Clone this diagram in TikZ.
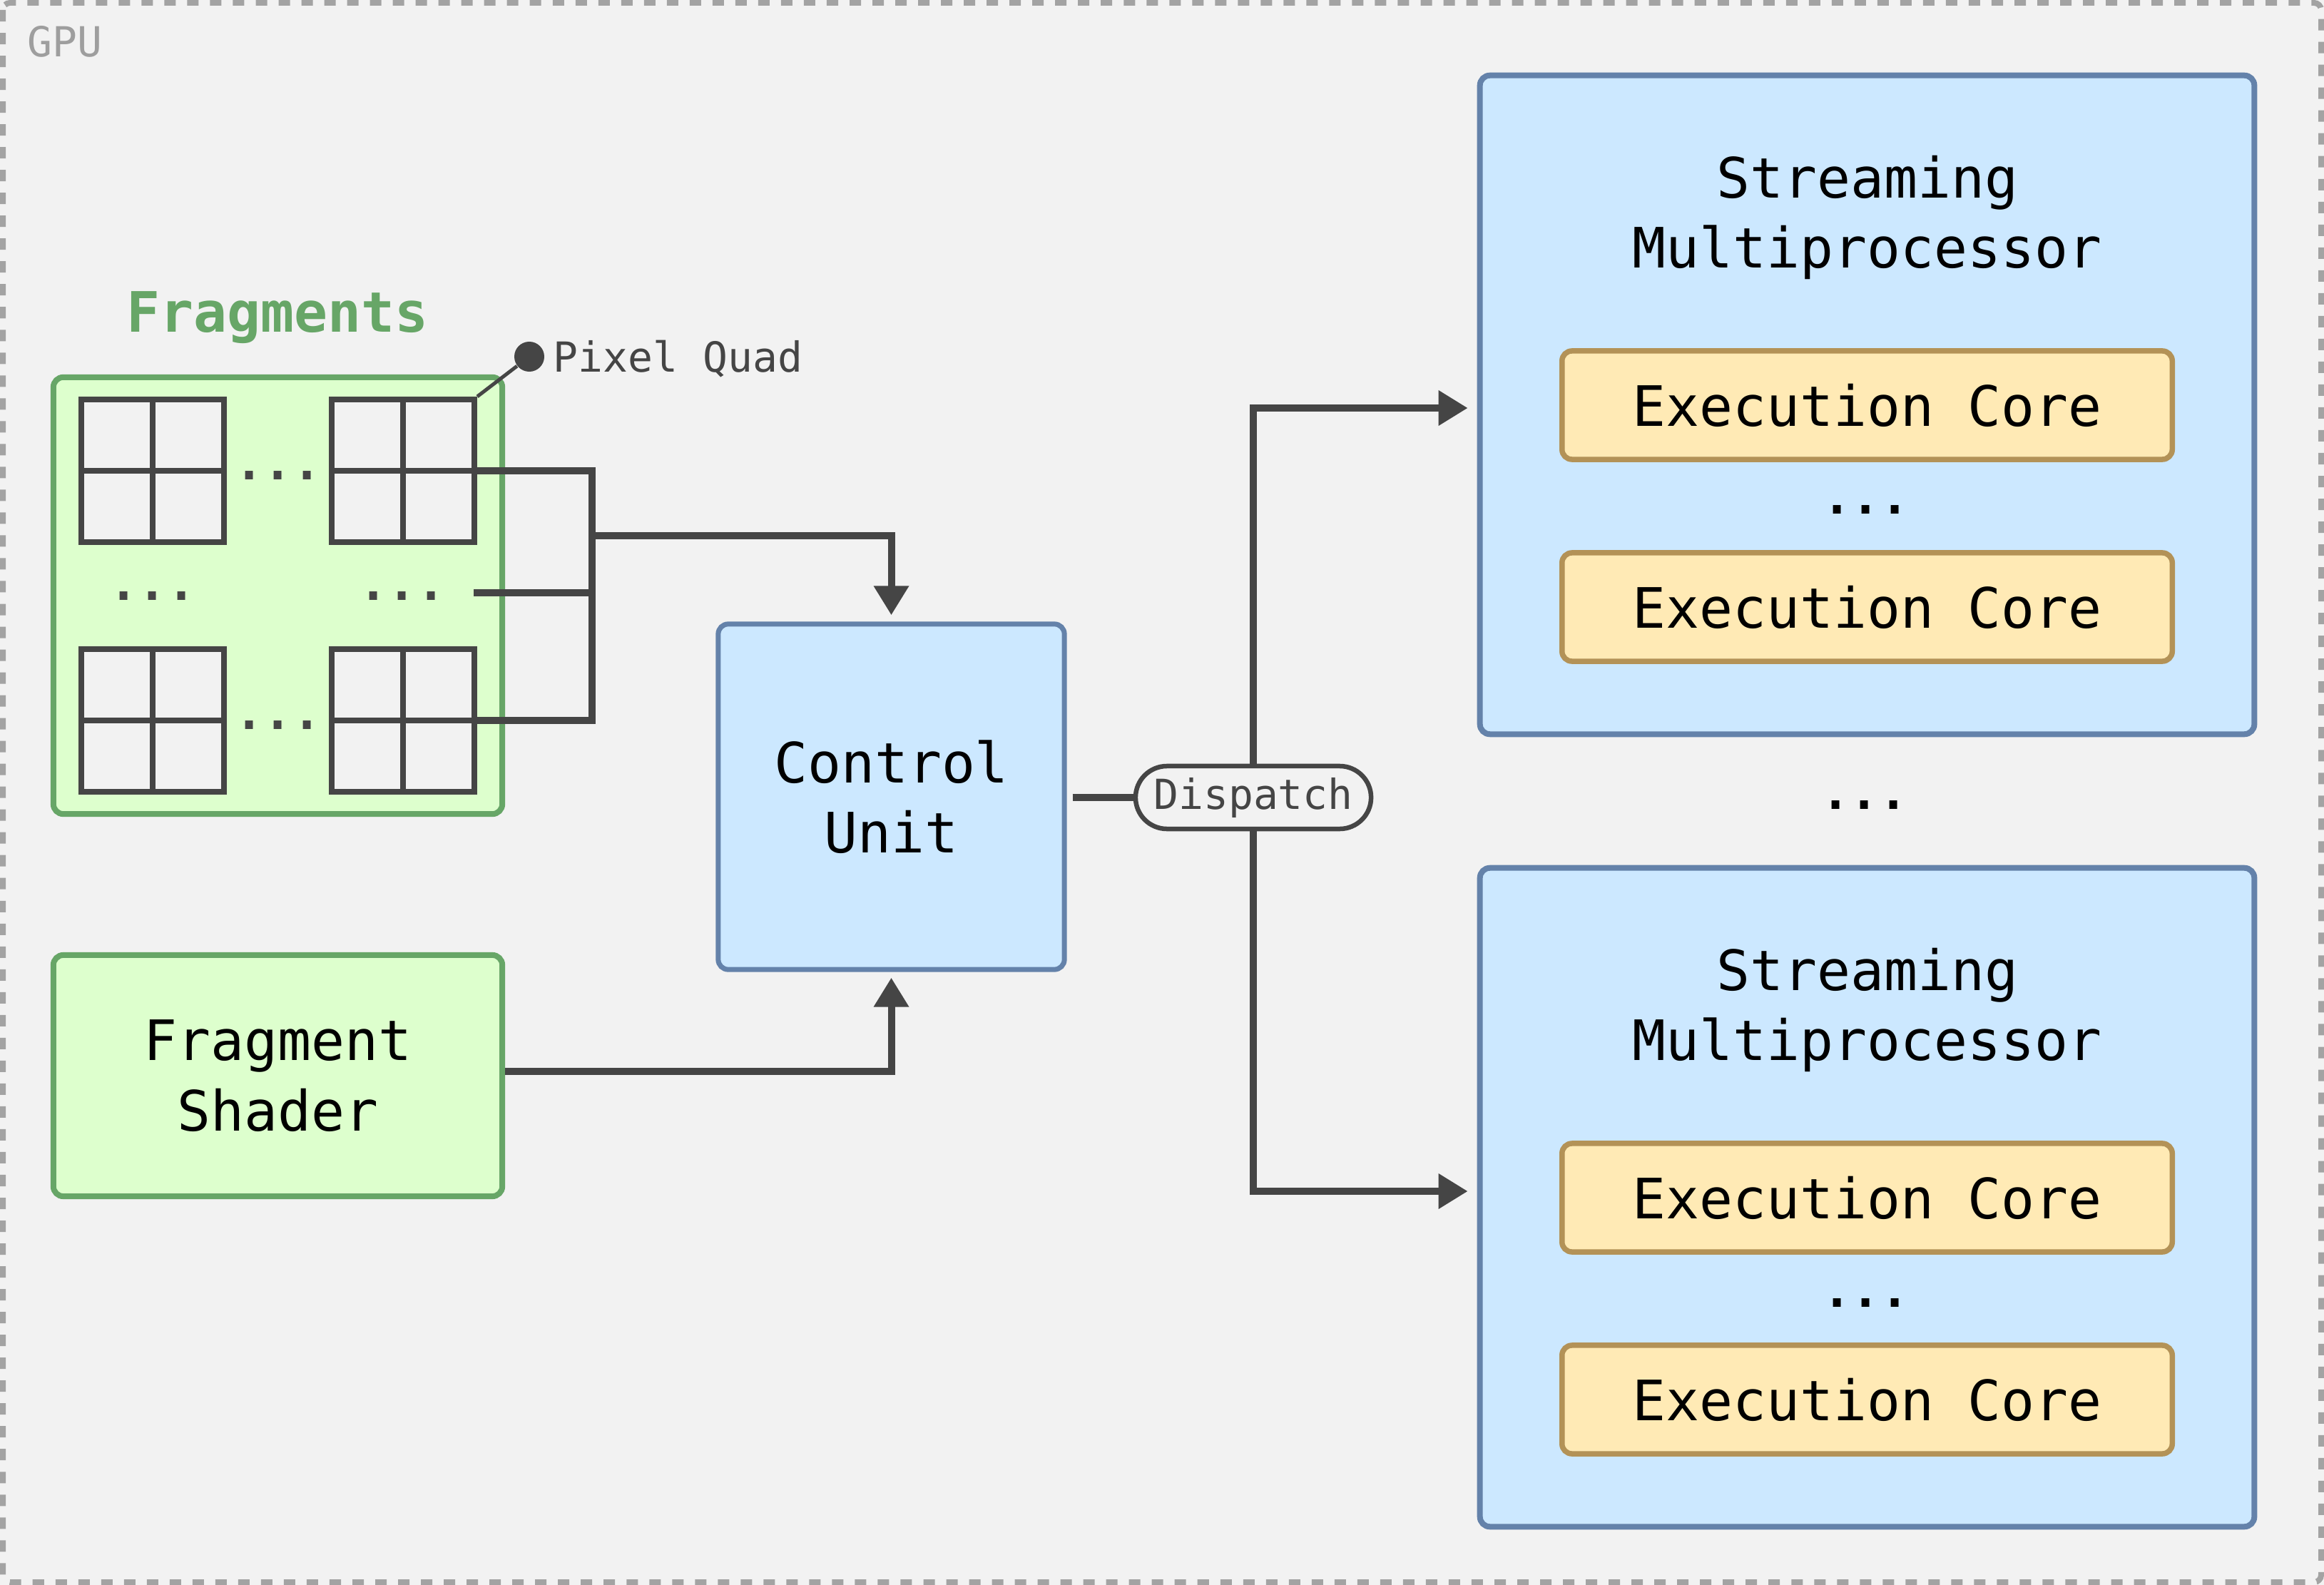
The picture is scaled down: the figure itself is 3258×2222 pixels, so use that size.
\documentclass[tikz,border=0pt]{standalone}
\usepackage{fontspec}
\setmainfont{DejaVu Sans Mono}
\usetikzlibrary{arrows.meta,calc}
\definecolor{bgc}{HTML}{F2F2F2}
\definecolor{gpugray}{HTML}{A3A3A3}
\definecolor{gpulbl}{HTML}{9E9E9E}
\definecolor{grf}{HTML}{DDFFCD}
\definecolor{grs}{HTML}{67A667}
\definecolor{blf}{HTML}{CCE8FF}
\definecolor{bls}{HTML}{6482AA}
\definecolor{ylf}{HTML}{FFEAB5}
\definecolor{yls}{HTML}{B39257}
\definecolor{dark}{HTML}{454545}
\begin{document}
\begin{tikzpicture}[x=0.01cm,y=-0.01cm,
  box/.style={draw, rounded corners=0.14cm, inner sep=0pt, line width=0.08cm},
  greenbox/.style={box, draw=grs, fill=grf},
  bluebox/.style={box, draw=bls, fill=blf},
  corebox/.style={box, draw=yls, fill=ylf, line width=0.075cm},
  big/.style={font=\fontsize{22.2}{28}\selectfont},
  small/.style={font=\fontsize{16.5}{20}\selectfont},
  dotsstyle/.style={font=\fontsize{19}{20}\selectfont\bfseries, inner sep=0pt, yshift=-0.05cm},
  conn/.style={draw=dark, line width=0.1cm},
  arr/.style={conn, -{Triangle[length=0.41cm,width=0.47cm]}},
  quad/.style={draw=dark, fill=bgc, line width=0.08cm, minimum size=2cm, inner sep=0pt,
    path picture={\draw[dark, line width=0.08cm]
      (path picture bounding box.north) -- (path picture bounding box.south)
      (path picture bounding box.west) -- (path picture bounding box.east);}},
  pill/.style={draw=dark, fill=bgc, line width=0.065cm, rounded corners=0.44cm,
    minimum width=3.3cm, minimum height=0.88cm, inner sep=0pt, small, text=dark},
]
\useasboundingbox (0,0) rectangle (3258,2222);
\fill[bgc] (0,0) rectangle (3258,2222);
\draw[gpugray, line width=0.08cm, dash pattern=on 0.16cm off 0.16cm, rounded corners=0.1cm]
  (4,4) rectangle (3254,2218);
\node[small, text=gpulbl, anchor=base west, inner sep=0pt] (gpu) at (38,80) {GPU};

% Fragments
\node[font=\fontsize{22.2}{28}\selectfont\bfseries, text=grs, anchor=base, inner sep=0pt] (fraglbl) at (389,466) {Fragments};
\node[greenbox, minimum width=6.29cm, minimum height=6.12cm] (frag) at (389.5,835) {};
\node[quad] (q1) at (214,660) {};
\node[quad] (q2) at (565,660) {};
\node[quad] (q3) at (214,1010) {};
\node[quad] (q4) at (565,1010) {};
\node[dotsstyle, text=dark] (d1) at (390,662) {...};
\node[dotsstyle, text=dark] (d2) at (214,831) {...};
\node[dotsstyle, text=dark] (d3) at (564,831) {...};
\node[dotsstyle, text=dark] (d4) at (390,1012) {...};

% Pixel quad annotation
\node[circle, fill=dark, minimum size=0.42cm, inner sep=0pt] (pqdot) at (742,500) {};
\node[small, text=dark, anchor=base west, inner sep=0pt] (pqlbl) at (775,522) {Pixel Quad};
\draw[dark, line width=0.05cm] (q2.north east) -- (pqdot);

% Fragment shader
\node[greenbox, big, align=center, minimum width=6.29cm, minimum height=3.38cm] (fs) at (389.5,1508) {Fragment\\Shader};

% Control unit
\node[bluebox, big, align=center, minimum width=4.85cm, minimum height=4.84cm, line width=0.07cm] (cu) at (1249.5,1117) {Control\\Unit};

% Bracket
\coordinate (brk) at (830,751);
\coordinate (mid) at (664,831);
\draw[conn] (q2.east) -| (brk) |- (q4.east);
\draw[conn] (mid) -- (mid -| brk);
\draw[arr, shorten >=0.09cm] (brk) -| (cu.north);
\draw[arr, shorten >=0.08cm] (fs.east |- 0,1502) -| (cu.south);

% Streaming multiprocessors
\node[bluebox, minimum width=10.85cm, minimum height=9.23cm] (sm1) at (2617.5,567.5) {};
\node[big, align=center] (sm1t) at (2617.5,305) {Streaming\\Multiprocessor};
\node[corebox, big, minimum width=8.55cm, minimum height=1.52cm] (ec1) at (2617.5,568) {Execution Core};
\node[dotsstyle] (ecd1) at (2616,710) {...};
\node[corebox, big, minimum width=8.55cm, minimum height=1.52cm] (ec2) at (2617.5,851) {Execution Core};

\node[dotsstyle] (smd) at (2614,1124) {...};

\node[bluebox, minimum width=10.85cm, minimum height=9.23cm] (sm2) at (2617.5,1678.5) {};
\node[big, align=center] (sm2t) at (2617.5,1416) {Streaming\\Multiprocessor};
\node[corebox, big, minimum width=8.55cm, minimum height=1.52cm] (ec3) at (2617.5,1679) {Execution Core};
\node[dotsstyle] (ecd2) at (2616,1821) {...};
\node[corebox, big, minimum width=8.55cm, minimum height=1.52cm] (ec4) at (2617.5,1962) {Execution Core};

% Dispatch
\node[pill] (disp) at (1757,1118) {Dispatch};
\draw[conn, shorten <=0.08cm] (cu.east |- disp.west) -- (disp.west);
\draw[arr, shorten >=0.13cm] (disp.north) |- (sm1.west |- 0,572);
\draw[arr, shorten >=0.13cm] (disp.south) |- (sm2.west |- 0,1670);
\end{tikzpicture}
\end{document}
